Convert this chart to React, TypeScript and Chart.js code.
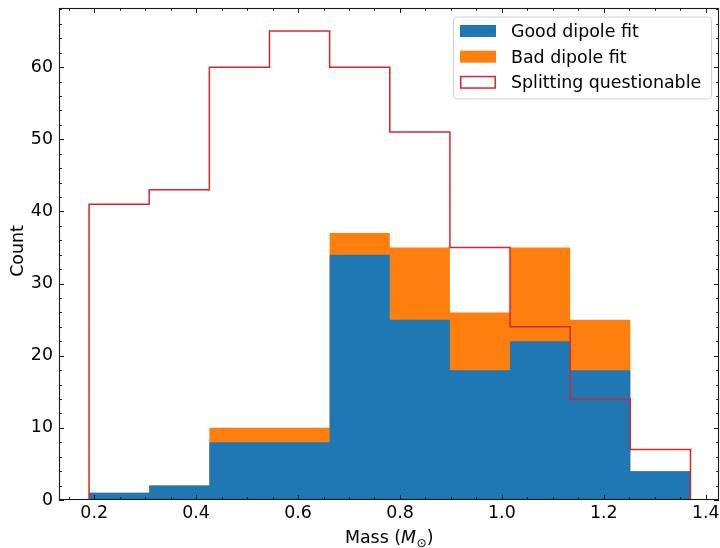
import React, { useEffect, useRef } from "react";
import { Chart, registerables } from "chart.js";

Chart.register(...registerables);

// ---- data ----
const binEdges = [0.19, 0.308, 0.426, 0.544, 0.662, 0.78, 0.898, 1.016, 1.134, 1.252, 1.37];
const goodCounts = [1, 2, 8, 8, 34, 25, 18, 22, 18, 4];
const badCounts = [0, 0, 2, 2, 3, 10, 8, 13, 7, 0];
const questionableCounts = [41, 43, 60, 65, 60, 51, 35, 24, 14, 7];
const seriesLabels = ["Good dipole fit", "Bad dipole fit", "Splitting questionable"];
const xRange = [0.131, 1.426];
const yRange = [0, 68.2];
const xMajorStep = 0.2;
const xMinorStep = 0.05;
const yMajorStep = 10;
const yMinorStep = 2;

const BLUE = "#1f77b4";
const ORANGE = "#ff7f0e";
const RED = "#d62728";
const FONT = "'DejaVu Sans', Verdana, sans-serif";
const FS = 17.4;

const stepPoints = (vals: number[]) => [
  ...vals.map((v, i) => ({ x: binEdges[i], y: v })),
  { x: binEdges[vals.length], y: vals[vals.length - 1] },
];
const outlinePoints = (vals: number[]) => [
  { x: binEdges[0], y: 0 },
  { x: binEdges[0], y: vals[0] },
  ...vals.map((v, i) => ({ x: binEdges[i + 1], y: v })),
  { x: binEdges[vals.length], y: 0 },
];

const decorPlugin = {
  id: "decor",
  afterDraw(chart: any) {
    const { ctx, chartArea: a, scales } = chart;
    const xs = scales.x;
    const ys = scales.y;
    ctx.save();
    // frame
    ctx.strokeStyle = "#1a1a1a";
    ctx.lineWidth = 1.1;
    ctx.strokeRect(a.left + 0.5, a.top + 0.5, a.right - a.left - 1, a.bottom - a.top - 1);

    const line = (x1: number, y1: number, x2: number, y2: number) => {
      ctx.beginPath();
      ctx.moveTo(x1, y1);
      ctx.lineTo(x2, y2);
      ctx.stroke();
    };
    const majorLen = 5;
    const minorLen = 2.8;
    ctx.lineWidth = 1;
    const isMult = (v: number, s: number) => Math.abs(v / s - Math.round(v / s)) < 1e-6;
    for (let v = Math.ceil(xs.min / xMinorStep) * xMinorStep; v <= xs.max + 1e-9; v += xMinorStep) {
      const px = Math.round(xs.getPixelForValue(v)) + 0.5;
      const len = isMult(v, xMajorStep) ? majorLen : minorLen;
      line(px, a.bottom, px, a.bottom - len);
      line(px, a.top, px, a.top + len);
    }
    for (let v = Math.ceil(ys.min / yMinorStep) * yMinorStep; v <= ys.max + 1e-9; v += yMinorStep) {
      const py = Math.round(ys.getPixelForValue(v)) + 0.5;
      const len = isMult(v, yMajorStep) ? majorLen : minorLen;
      line(a.left, py, a.left + len, py);
      line(a.right, py, a.right - len, py);
    }

    // y title
    ctx.fillStyle = "#000";
    ctx.font = `${FS}px ${FONT}`;
    ctx.save();
    ctx.translate(23, (a.top + a.bottom) / 2 - 3);
    ctx.rotate(-Math.PI / 2);
    ctx.textAlign = "center";
    ctx.textBaseline = "alphabetic";
    ctx.fillText("Count", 0, 0);
    ctx.restore();

    // x title: Mass (M_sun)
    const parts = [
      { t: "Mass (", f: `${FS}px ${FONT}`, dy: 0 },
      { t: "M", f: `italic ${FS}px ${FONT}`, dy: 0 },
      { t: "\u2299", f: `${FS * 0.7}px ${FONT}`, dy: 3.5 },
      { t: ")", f: `${FS}px ${FONT}`, dy: 0 },
    ];
    let total = 0;
    const widths = parts.map((p) => {
      ctx.font = p.f;
      const w = ctx.measureText(p.t).width;
      total += w;
      return w;
    });
    let x = (a.left + a.right) / 2 - total / 2;
    const base = 543;
    ctx.textAlign = "left";
    ctx.textBaseline = "alphabetic";
    parts.forEach((p, i) => {
      ctx.font = p.f;
      ctx.fillText(p.t, x, base + p.dy);
      x += widths[i] + (i === 1 ? 0.5 : 0);
    });

    // legend
    const lx = 453.5, ly = 17, lw = 258, lh = 82, r = 4;
    ctx.beginPath();
    ctx.moveTo(lx + r, ly);
    ctx.lineTo(lx + lw - r, ly);
    ctx.quadraticCurveTo(lx + lw, ly, lx + lw, ly + r);
    ctx.lineTo(lx + lw, ly + lh - r);
    ctx.quadraticCurveTo(lx + lw, ly + lh, lx + lw - r, ly + lh);
    ctx.lineTo(lx + r, ly + lh);
    ctx.quadraticCurveTo(lx, ly + lh, lx, ly + lh - r);
    ctx.lineTo(lx, ly + r);
    ctx.quadraticCurveTo(lx, ly, lx + r, ly);
    ctx.closePath();
    ctx.fillStyle = "rgba(255,255,255,0.8)";
    ctx.fill();
    ctx.strokeStyle = "#d0d0d0";
    ctx.lineWidth = 1;
    ctx.stroke();

    const rowY = [31, 56.7, 82.3];
    const colors = [BLUE, ORANGE, RED];
    seriesLabels.forEach((lab, i) => {
      const cy = rowY[i];
      if (i < 2) {
        ctx.fillStyle = colors[i];
        ctx.fillRect(460, cy - 6, 36, 12);
      } else {
        ctx.strokeStyle = RED;
        ctx.lineWidth = 1.5;
        ctx.strokeRect(460.75, cy - 5.75, 34.5, 11.5);
      }
      ctx.fillStyle = "#000";
      ctx.font = `${FS}px ${FONT}`;
      ctx.textBaseline = "alphabetic";
      ctx.textAlign = "left";
      ctx.fillText(lab, 511, cy + 6);
    });
    ctx.restore();
  },
};

export default function App() {
  const ref = useRef<HTMLCanvasElement | null>(null);
  useEffect(() => {
    if (!ref.current) return;
    const totalCounts = goodCounts.map((g, i) => g + badCounts[i]);
    const chart = new Chart(ref.current, {
      type: "line",
      data: {
        datasets: [
          {
            label: seriesLabels[2],
            data: outlinePoints(questionableCounts),
            borderColor: RED,
            borderWidth: 1.5,
            backgroundColor: "rgba(0,0,0,0)",
            fill: false,
            stepped: "after",
            pointRadius: 0,
          },
          {
            label: seriesLabels[0],
            data: stepPoints(goodCounts),
            borderColor: "rgba(0,0,0,0)",
            borderWidth: 0,
            backgroundColor: BLUE,
            fill: "origin",
            stepped: "before",
            pointRadius: 0,
          },
          {
            label: seriesLabels[1],
            data: stepPoints(totalCounts),
            borderColor: "rgba(0,0,0,0)",
            borderWidth: 0,
            backgroundColor: ORANGE,
            fill: "origin",
            stepped: "before",
            pointRadius: 0,
          },
        ],
      },
      options: {
        responsive: false,
        animation: false,
        events: [],
        layout: { padding: { top: 8, right: 1, left: 0, bottom: 0 } },
        plugins: { legend: { display: false }, tooltip: { enabled: false } },
        scales: {
          x: {
            type: "linear",
            min: xRange[0],
            max: xRange[1],
            grid: { display: false, drawTicks: false },
            border: { display: false },
            ticks: {
              stepSize: xMajorStep,
              includeBounds: false,
              autoSkip: false,
              maxRotation: 0,
              padding: 3,
              color: "#000",
              font: { family: FONT, size: FS },
              callback: (v: any) => Number(v).toFixed(1),
            },
            afterFit: (s: any) => {
              s.height = 48;
              s.paddingLeft = 0;
              s.paddingRight = 0;
            },
          },
          y: {
            type: "linear",
            min: yRange[0],
            max: yRange[1],
            grid: { display: false, drawTicks: false },
            border: { display: false },
            ticks: {
              stepSize: yMajorStep,
              includeBounds: false,
              padding: 6,
              color: "#000",
              font: { family: FONT, size: FS },
            },
            afterFit: (s: any) => {
              s.width = 59;
              s.paddingTop = 0;
              s.paddingBottom = 0;
            },
          },
        },
      },
      plugins: [decorPlugin],
    });
    return () => chart.destroy();
  }, []);
  return (
    <div style={{ position: "fixed", left: 0, top: 0, width: 720, height: 548, background: "#fff" }}>
      <canvas ref={ref} width={720} height={548} style={{ display: "block" }} />
    </div>
  );
}
